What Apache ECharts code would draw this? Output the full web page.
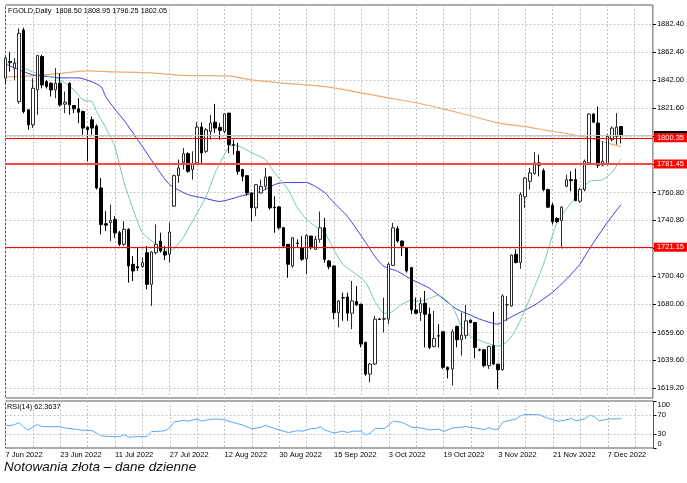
<!DOCTYPE html>
<html>
<head>
<meta charset="utf-8">
<script src="https://cdn.jsdelivr.net/npm/echarts@6/dist/echarts.min.js"></script>
<style>
  html, body { margin: 0; padding: 0; background: #fff; }
  #goldChart { width: 687px; height: 483px; }
</style>
</head>
<body>
<div id="goldChart"></div>
<script>
// daily candles, [open, close, low, high], from 7 Jun 2022
var candles = [
  [1843.5,1858.0,1839.0,1860.0],[1855.5,1855.0,1848.2,1862.2],[1850.7,1854.3,1842.2,1857.9],[1826.6,1875.9,1825.0,1879.5],
  [1878.3,1819.4,1818.0,1880.0],[1820.6,1809.8,1806.2,1821.0],[1809.8,1836.2,1807.4,1843.4],[1835.0,1859.8,1817.0,1860.3],
  [1859.1,1838.6,1836.2,1860.3],[1841.0,1837.4,1836.0,1842.0],[1839.8,1835.0,1830.2,1840.5],[1835.0,1839.8,1829.0,1850.7],
  [1839.8,1824.2,1823.0,1847.0],[1824.7,1826.1,1818.2,1833.8],[1839.8,1824.2,1817.0,1840.5],[1823.7,1821.3,1818.2,1824.0],
  [1821.3,1818.9,1811.0,1829.0],[1819.4,1807.4,1802.6,1820.0],[1808.1,1806.2,1783.4,1808.5],[1813.4,1807.4,1802.6,1815.8],
  [1808.8,1764.1,1763.0,1810.0],[1764.1,1737.7,1730.5,1771.3],[1738.2,1737.2,1732.9,1747.3],[1739.1,1740.6,1725.7,1752.1],
  [1741.3,1731.7,1728.1,1743.7],[1731.7,1723.3,1722.1,1733.0],[1723.3,1734.1,1722.1,1740.1],[1734.1,1707.7,1695.6,1735.0],
  [1708.9,1704.1,1696.8,1714.9],[1707.2,1706.2,1704.1,1721.0],[1707.2,1710.1,1706.5,1713.7],[1717.3,1694.4,1690.8,1722.1],
  [1694.4,1717.8,1678.8,1718.5],[1717.3,1723.3,1716.1,1737.7],[1725.7,1718.5,1717.3,1731.7],[1718.0,1715.6,1712.0,1722.1],
  [1716.1,1732.2,1710.1,1738.9],[1750.9,1773.0,1750.4,1773.7],[1773.0,1778.6,1767.7,1784.6],[1782.6,1788.9,1777.4,1793.0],
  [1788.9,1776.1,1775.0,1790.0],[1777.4,1781.7,1770.1,1790.6],[1782.2,1808.1,1781.0,1811.7],[1808.1,1789.4,1781.0,1811.5],
  [1790.6,1806.2,1789.4,1807.4],[1805.0,1811.0,1799.0,1817.0],[1811.7,1807.4,1803.8,1824.9],[1807.9,1805.7,1799.0,1811.0],
  [1805.0,1817.7,1803.8,1818.2],[1818.2,1795.4,1789.4,1818.5],[1795.4,1795.0,1788.2,1799.0],[1790.6,1776.1,1773.7,1796.6],
  [1777.4,1772.5,1768.9,1778.0],[1773.0,1760.5,1758.6,1773.5],[1760.5,1749.7,1740.1,1761.0],[1749.7,1766.5,1743.7,1767.0],
  [1760.5,1765.3,1760.0,1770.1],[1765.3,1772.1,1762.9,1778.6],[1772.1,1749.7,1748.5,1772.5],[1750.2,1749.7,1731.7,1758.1],
  [1750.4,1735.3,1734.1,1751.0],[1735.3,1722.1,1721.5,1736.0],[1723.3,1708.9,1699.2,1723.5],[1707.7,1728.1,1706.5,1728.5],
  [1724.2,1724.0,1720.9,1726.9],[1720.9,1712.5,1711.3,1729.3],[1712.9,1729.8,1701.7,1730.5],[1729.3,1720.9,1719.7,1729.5],
  [1719.7,1726.9,1719.2,1729.3],[1726.9,1735.3,1724.5,1747.0],[1735.3,1712.5,1710.1,1742.5],[1711.3,1707.2,1705.3,1712.0],
  [1707.7,1674.0,1669.2,1708.0],[1674.0,1682.4,1663.2,1683.0],[1684.8,1684.5,1668.0,1688.4],[1685.3,1673.5,1668.0,1688.4],
  [1673.5,1682.4,1662.0,1696.8],[1681.9,1679.5,1678.8,1693.2],[1680.0,1651.2,1648.8,1680.5],[1652.4,1629.5,1628.3,1653.0],
  [1629.5,1636.8,1623.5,1637.5],[1636.8,1669.2,1636.0,1671.6],[1669.2,1669.0,1668.5,1670.0],[1669.2,1669.7,1659.6,1684.8],
  [1669.2,1708.9,1665.6,1710.1],[1708.1,1735.3,1707.7,1738.9],[1734.6,1725.7,1724.5,1736.5],[1725.7,1722.1,1714.9,1726.0],
  [1720.9,1704.1,1702.9,1721.5],[1706.5,1675.9,1672.8,1707.0],[1675.9,1673.5,1672.8,1684.8],[1674.0,1680.5,1668.0,1684.8],
  [1680.7,1672.8,1648.8,1689.6],[1672.8,1648.8,1647.6,1677.6],[1649.5,1655.3,1648.8,1675.2],[1657.2,1657.0,1648.8,1665.6],
  [1660.1,1634.4,1633.2,1660.5],[1634.4,1632.7,1626.4,1635.0],[1633.2,1660.1,1621.1,1662.0],[1663.9,1654.3,1648.8,1664.5],
  [1654.3,1657.7,1642.8,1674.0],[1657.2,1668.0,1654.8,1679.5],[1668.5,1666.8,1666.0,1669.0],[1666.8,1648.8,1640.9,1667.0],
  [1647.1,1646.9,1646.0,1648.0],[1647.1,1635.6,1634.4,1647.5],[1635.6,1649.5,1633.2,1650.0],[1650.0,1636.8,1636.0,1674.5],
  [1636.6,1632.7,1618.7,1637.0],[1632.7,1686.0,1632.0,1687.2],[1679.5,1679.7,1668.0,1686.0],[1678.8,1715.6,1678.3,1716.1],
  [1716.1,1710.1,1709.6,1719.7],[1710.1,1759.3,1705.7,1761.0],[1757.6,1771.3,1749.7,1772.1],[1768.9,1775.0,1762.9,1778.6],
  [1774.5,1782.2,1773.7,1790.1],[1782.2,1780.5,1772.5,1788.2],[1776.6,1762.9,1761.7,1778.1],[1762.9,1750.2,1749.7,1763.5],
  [1751.6,1739.6,1737.7,1753.3],[1742.0,1739.6,1738.9,1743.0],[1740.6,1750.2,1720.4,1750.9],[1765.3,1770.1,1764.6,1773.7],
  [1770.1,1769.4,1761.7,1776.1],[1770.1,1755.0,1754.5,1778.1],[1754.5,1762.9,1753.3,1764.1],[1762.9,1783.4,1761.7,1784.6],
  [1782.2,1817.5,1782.2,1818.2],[1817.5,1811.7,1811.0,1818.2],[1811.0,1780.5,1778.6,1823.0],[1780.5,1783.4,1779.8,1797.8],
  [1781.0,1801.4,1780.5,1803.1],[1799.0,1807.4,1797.8,1808.6],[1801.4,1808.1,1795.4,1818.2],[1808.50,1802.05,1796.25,1808.95]
];

// moving averages, [bar index, price]
var maFast = [
  [0,1853.1],[2,1855.2],[4,1850.9],[6,1848.0],[8,1845.8],[11,1843.7],[13,1840.1],[15,1835.0],[17,1827.8],[19,1826.4],
  [20,1819.2],[22,1807.6],[24,1793.9],[26,1768.0],[28,1748.5],[30,1731.9],[33,1723.3],[34,1719.7],[36,1719.0],[37,1720.4],
  [39,1728.3],[41,1739.9],[44,1757.9],[46,1775.2],[47,1781.7],[49,1793.9],[50,1795.4],[52,1793.2],[54,1789.6],[57,1784.6],
  [59,1775.2],[62,1762.9],[64,1750.0],[66,1741.3],[68,1736.3],[70,1731.9],[72,1719.7],[74,1708.9],[76,1703.8],[79,1695.9],
  [81,1682.2],[83,1673.5],[84,1673.5],[87,1680.0],[89,1682.9],[91,1682.2],[93,1684.3],[95,1686.5],[98,1678.5],[100,1664.1],
  [102,1656.9],[105,1652.6],[108,1649.7],[110,1652.6],[112,1662.0],[114,1676.4],[116,1692.3],[118,1708.9],[121,1739.1],
  [125,1757.2],[128,1768.7],[131,1770.1],[133,1775.2],[135,1785.3]
];
var maMid = [
  [0,1853.8],[2,1850.9],[6,1845.8],[10,1844.4],[12,1843.7],[16,1843.7],[19,1840.8],[21,1837.2],[22,1830.0],[24,1821.0],
  [26,1813.0],[29,1799.0],[33,1779.5],[36,1766.5],[40,1759.3],[44,1756.4],[47,1754.3],[49,1755.7],[52,1758.6],[56,1761.5],
  [59,1766.5],[61,1768.0],[66,1768.0],[68,1765.1],[70,1760.8],[72,1753.6],[75,1743.5],[79,1724.7],[81,1714.6],[83,1707.4],
  [86,1703.8],[89,1698.0],[93,1691.6],[95,1686.5],[99,1676.4],[102,1672.1],[104,1669.2],[108,1665.6],[110,1669.2],
  [113,1674.3],[116,1679.3],[120,1688.7],[123,1698.0],[126,1708.9],[128,1719.7],[132,1739.1],[135,1752.1]
];
var maSlow = [
  [0,1844.4],[6,1845.1],[13,1847.3],[18,1848.7],[24,1848.0],[32,1847.3],[39,1845.5],[49,1845.1],[54,1842.2],[60,1840.1],
  [66,1838.6],[72,1836.5],[78,1832.9],[84,1829.3],[90,1825.7],[96,1821.3],[102,1816.3],[108,1811.2],[114,1808.4],
  [119,1805.5],[122,1804.0],[127,1801.1],[131,1797.5],[135,1793.9]
];

// RSI(14), [bar index, value]
var rsi = [
  [0,48.6],[1,47.3],[2,49.9],[3,54.2],[4,44.3],[5,38.5],[7,49.9],[8,45.6],[12,45.0],[13,42.8],[17,37.9],[19,37.0],
  [21,25.7],[23,24.2],[25,24.2],[26,28.5],[27,22.9],[29,24.2],[31,24.2],[32,34.9],[34,35.8],[35,37.0],[36,42.8],
  [37,55.7],[39,58.5],[40,57.2],[42,61.5],[43,57.2],[45,61.5],[47,61.5],[48,60.0],[50,54.2],[52,48.6],[54,40.7],
  [56,44.3],[57,48.6],[58,44.3],[60,38.5],[62,32.8],[64,37.0],[65,35.8],[67,41.3],[68,41.3],[69,45.6],[70,38.0],
  [71,35.0],[72,32.1],[74,35.8],[75,32.8],[76,35.8],[78,35.8],[79,27.2],[80,32.1],[81,41.3],[83,41.3],[85,57.2],
  [87,54.2],[89,44.3],[91,42.8],[93,38.5],[95,40.0],[96,34.9],[98,42.8],[99,43.5],[101,45.6],[103,42.2],[105,39.2],
  [106,43.5],[107,39.2],[108,40.7],[109,55.0],[111,60.0],[112,62.1],[113,69.2],[114,71.3],[117,70.7],[119,62.7],
  [121,57.2],[122,57.8],[124,62.7],[125,57.8],[127,62.1],[128,70.0],[129,67.0],[130,57.8],[132,61.5],[134,62.1],[135,62.36]
];

var priceTicks = [1619.20,1639.60,1659.60,1680.00,1700.40,1720.60,1740.80,1760.80,1781.00,1801.40,1821.60,1842.00,1862.40,1882.40];
var rsiTicks = [0, 30, 70, 100];
var rsiLevels = [30, 70];
var dateTicks = ['7 Jun 2022','23 Jun 2022','11 Jul 2022','27 Jul 2022','12 Aug 2022','30 Aug 2022',
                 '15 Sep 2022','3 Oct 2022','19 Oct 2022','3 Nov 2022','21 Nov 2022','7 Dec 2022'];
// horizontal levels: [price, box colour, line colour, line width]
var levels = [
  [1802.05, '#000000', '#c8c8c8', 1],
  [1800.35, '#ff0000', '#ff0000', 1],
  [1781.45, '#ff0000', '#ff4a4a', 2],
  [1721.15, '#ff0000', '#ff0000', 1]
];

// weekday slots, a few empty ones after the last bar
var days = [];
var d = new Date(Date.UTC(2022, 5, 7));
while (days.length < 143) {
  var wd = d.getUTCDay();
  if (wd !== 0 && wd !== 6) days.push(d.toISOString().slice(0, 10));
  d.setUTCDate(d.getUTCDate() + 1);
}

var FONT = 'Liberation Sans';
var gridLine = { show: true, interval: 5, lineStyle: { color: '#c4c4c4', type: [2, 2], width: 1 } };

var myChart = echarts.init(document.getElementById('goldChart'));
var option = {
  animation: false,
  backgroundColor: '#ffffff',
  textStyle: { fontFamily: FONT },
  title: [
    { text: 'FGOLD,Daily  1808.50 1808.95 1796.25 1802.05', left: 8, top: 7.5, padding: 0,
      textStyle: { fontSize: 7.3, fontWeight: 'normal', color: '#000', fontFamily: FONT } },
    { text: 'RSI(14) 62.3637', left: 7, top: 403, padding: 0,
      textStyle: { fontSize: 7.3, fontWeight: 'normal', color: '#000', fontFamily: FONT } },
    { text: 'Notowania złota – dane dzienne', left: 4, top: 460, padding: 0,
      textStyle: { fontSize: 13.5, fontWeight: 'normal', fontStyle: 'italic', color: '#111', fontFamily: FONT } }
  ],
  grid: [
    { left: 5.5, right: 33.5, top: 5, height: 393, show: true, borderColor: '#5a5a5a', borderWidth: 1 },
    { left: 5.5, right: 33.5, top: 401, height: 47, show: true, borderColor: '#5a5a5a', borderWidth: 1 }
  ],
  xAxis: [
    { type: 'category', gridIndex: 0, data: days, boundaryGap: false,
      axisLine: { show: false }, axisTick: { show: false }, axisLabel: { show: false }, splitLine: gridLine },
    { type: 'category', gridIndex: 1, data: days, boundaryGap: false,
      axisLine: { show: false }, axisTick: { show: false }, splitLine: gridLine,
      axisLabel: { interval: 11, align: 'left', margin: 3, fontSize: 7.5, color: '#000', fontFamily: FONT,
        formatter: function (v, i) { return dateTicks[i / 12] || ''; } } }
  ],
  yAxis: [
    { type: 'value', gridIndex: 0, position: 'right', min: 1612.2, max: 1896.4, scale: true,
      axisLine: { show: false },
      axisTick: { show: true, length: 3, customValues: priceTicks, lineStyle: { color: '#000' } },
      axisLabel: { customValues: priceTicks, margin: 4, fontSize: 7.5, color: '#000', fontFamily: FONT,
        formatter: function (v) { return v.toFixed(2); } },
      splitLine: { show: true, lineStyle: { color: '#c4c4c4', type: [2, 2], width: 1 } } },
    { type: 'value', gridIndex: 1, position: 'right', min: 0, max: 100,
      axisLine: { show: false },
      axisTick: { show: true, length: 3, customValues: rsiTicks, lineStyle: { color: '#000' } },
      axisLabel: { customValues: rsiTicks, margin: 4, fontSize: 7.5, color: '#000', fontFamily: FONT,
        formatter: function (v) {
          if (v === 100) return '{dn|100}';
          if (v === 0) return '{up|0}';
          return String(v);
        },
        rich: {
          dn: { padding: [8, 0, 0, 0], fontSize: 7.5, color: '#000', fontFamily: FONT },
          up: { padding: [0, 0, 8, 0], fontSize: 7.5, color: '#000', fontFamily: FONT }
        } },
      splitLine: { show: false } }
  ],
  series: [
    { name: 'MA slow', type: 'line', xAxisIndex: 0, yAxisIndex: 0, data: maSlow, symbol: 'none', smooth: 0.2,
      lineStyle: { color: '#ecaa74', width: 1.2 }, z: 2 },
    { name: 'MA mid', type: 'line', xAxisIndex: 0, yAxisIndex: 0, data: maMid, symbol: 'none', smooth: 0.2,
      lineStyle: { color: '#3c3ce0', width: 1 }, z: 2 },
    { name: 'MA fast', type: 'line', xAxisIndex: 0, yAxisIndex: 0, data: maFast, symbol: 'none', smooth: 0.2,
      lineStyle: { color: '#72cc9a', width: 1 }, z: 2 },
    { name: 'FGOLD', type: 'candlestick', xAxisIndex: 0, yAxisIndex: 0, data: candles, barWidth: 3, z: 3,
      itemStyle: { color: '#ffffff', color0: '#000000', borderColor: '#2a2a2a', borderColor0: '#000000', borderWidth: 1 },
      markLine: {
        silent: true, symbol: ['none', 'none'], animation: false,
        data: levels.map(function (l) {
          return {
            yAxis: l[0],
            lineStyle: { color: l[2], width: l[3], type: 'solid' },
            label: { show: true, position: 'end', distance: 1, formatter: l[0].toFixed(2),
              backgroundColor: l[1], color: '#fff', fontSize: 7.5, fontFamily: FONT, padding: [1, 3, 0, 3] }
          };
        })
      } },
    { name: 'RSI', type: 'line', xAxisIndex: 1, yAxisIndex: 1, data: rsi, symbol: 'none',
      lineStyle: { color: '#5aa8f5', width: 1 },
      markLine: {
        silent: true, symbol: ['none', 'none'], animation: false, label: { show: false },
        lineStyle: { color: '#c4c4c4', type: [2, 2], width: 1 },
        data: rsiLevels.map(function (v) { return { yAxis: v }; })
      } }
  ]
};
myChart.setOption(option);
</script>
</body>
</html>
